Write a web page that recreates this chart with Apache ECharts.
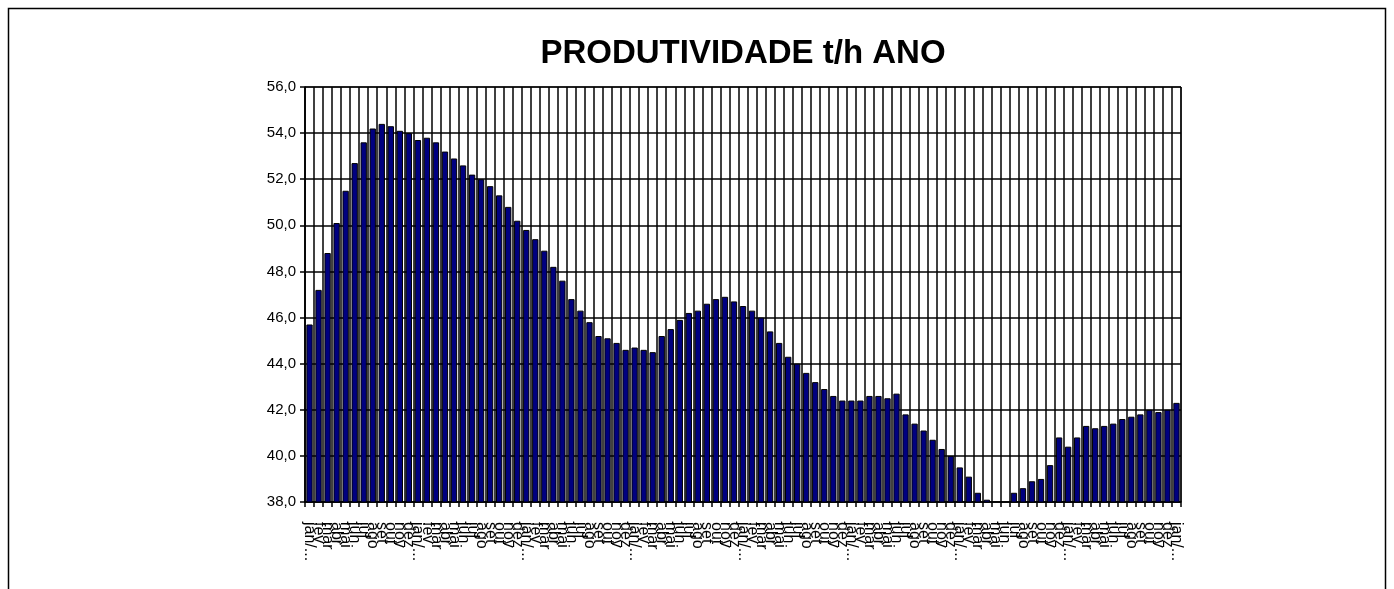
<!DOCTYPE html>
<html>
<head>
<meta charset="utf-8">
<title>PRODUTIVIDADE t/h ANO</title>
<script src="https://cdn.jsdelivr.net/npm/echarts@6/dist/echarts.min.js"></script>
<style>
  html, body { margin: 0; padding: 0; background: #fff; }
  #container { width: 1394px; height: 589px; }
</style>
</head>
<body>
<div id="container"></div>
<script>
// meses (o primeiro de cada ano aparece cortado no original)
var months = ['jan/...', 'fev', 'mar', 'abr', 'mai', 'jun', 'jul', 'ago', 'set', 'out', 'nov', 'dez'];
var nBars = 97;

// produtividade t/h
var produtividade = [
	45.7, 47.2, 48.8, 50.1, 51.5, 52.7, 53.6, 54.2, 54.4, 54.3, 54.1, 54.0,
	53.7, 53.8, 53.6, 53.2, 52.9, 52.6, 52.2, 52.0, 51.7, 51.3, 50.8, 50.2,
	49.8, 49.4, 48.9, 48.2, 47.6, 46.8, 46.3, 45.8, 45.2, 45.1, 44.9, 44.6,
	44.7, 44.6, 44.5, 45.2, 45.5, 45.9, 46.2, 46.3, 46.6, 46.8, 46.9, 46.7,
	46.5, 46.3, 46.0, 45.4, 44.9, 44.3, 44.0, 43.6, 43.2, 42.9, 42.6, 42.4,
	42.4, 42.4, 42.6, 42.6, 42.5, 42.7, 41.8, 41.4, 41.1, 40.7, 40.3, 40.0,
	39.5, 39.1, 38.4, 38.1, 38.0, 38.0, 38.4, 38.6, 38.9, 39.0, 39.6, 40.8,
	40.4, 40.8, 41.3, 41.2, 41.3, 41.4, 41.6, 41.7, 41.8, 42.0, 41.9, 42.0,
	42.3
];

var yMin = 38, yMax = 56, yStep = 2;

var categorias = [];
for (var i = 0; i < nBars; i++) {
	categorias.push(months[i % 12]);
}

var dom = document.getElementById('container');
var myChart = echarts.init(dom);
var option = {
	backgroundColor: '#fff',
	animation: false,
	title: {
		text: 'PRODUTIVIDADE t/h ANO',
		left: 738,
		top: 32,
		textAlign: 'center',
		textStyle: {
			fontFamily: 'Liberation Sans, Arial, sans-serif',
			fontSize: 33,
			fontWeight: 'bold',
			color: '#000'
		}
	},
	graphic: [{
		type: 'rect',
		shape: { x: 8.5, y: 8.5, width: 1377, height: 620 },
		style: { fill: 'none', stroke: '#000', lineWidth: 1.5 },
		silent: true
	}],
	grid: {
		left: 305,
		right: 213,
		top: 87,
		bottom: 87,
		show: true,
		borderColor: '#000',
		borderWidth: 1
	},
	xAxis: {
		type: 'category',
		data: categorias,
		boundaryGap: true,
		axisLine: { lineStyle: { color: '#000', width: 1.5 } },
		axisTick: { show: true, interval: 0, length: 5, lineStyle: { color: '#000', width: 1.5 } },
		splitLine: { show: true, interval: 0, lineStyle: { color: '#000', width: 1.5 } },
		axisLabel: {
			interval: 0,
			rotate: -90,
			margin: 20,
			fontFamily: 'Liberation Sans, Arial, sans-serif',
			fontSize: 16,
			color: '#000'
		}
	},
	yAxis: {
		type: 'value',
		min: yMin,
		max: yMax,
		interval: yStep,
		axisLine: { show: true, lineStyle: { color: '#000', width: 1.5 } },
		axisTick: { show: true, length: 5, lineStyle: { color: '#000', width: 1.5 } },
		splitLine: { show: true, lineStyle: { color: '#000', width: 1.5 } },
		axisLabel: {
			margin: 9,
			fontFamily: 'Liberation Sans, Arial, sans-serif',
			fontSize: 15,
			color: '#000',
			formatter: function (v) { return v.toFixed(1).replace('.', ','); }
		}
	},
	series: [{
		name: 'Produtividade',
		type: 'bar',
		data: produtividade,
		barCategoryGap: '30%',
		itemStyle: {
			color: '#000080',
			borderColor: '#000',
			borderWidth: 1
		}
	}]
};
if (option && typeof option === "object") {
	myChart.setOption(option, true);
}
</script>
</body>
</html>
